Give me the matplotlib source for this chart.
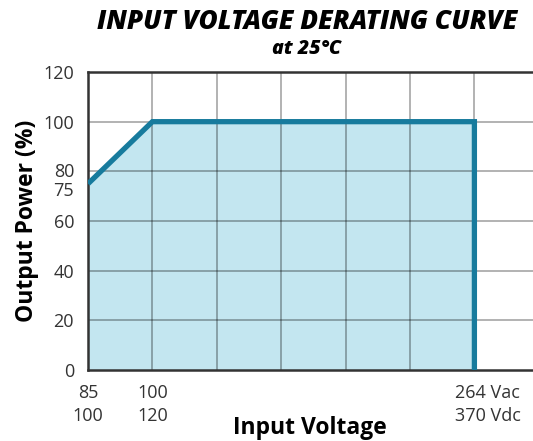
import matplotlib.pyplot as plt
from matplotlib.transforms import ScaledTranslation

plt.rcParams['font.family'] = ['Open Sans', 'DejaVu Sans']

# input voltage categories (evenly spaced grid columns)
x_labels = ['85\n100', '100\n120', '', '', '', '', '264 Vac\n370 Vdc']
curve_x = [0, 1, 6, 6]
curve_y = [75, 100, 100, 0]
y_ticks = [0, 20, 40, 60, 75, 80, 100, 120]
grid_y = [20, 40, 60, 80, 100]

fig = plt.figure(figsize=(5.33, 4.41), dpi=100)
ax = fig.add_axes([88 / 533, 1 - 370 / 441, 1 - 88 / 533, (370 - 72) / 441])

ax.fill_between(curve_x[:3], curve_y[:3], 0, color='#c3e6f0', zorder=1)
ax.plot(curve_x, curve_y, color='#177b9d', linewidth=3.8, zorder=4,
        solid_joinstyle='miter', solid_capstyle='butt')

for gx in range(1, 8):
    ax.axvline(gx, color='black', alpha=0.3, linewidth=1.4, zorder=2)
for gy in grid_y:
    ax.axhline(gy, color='black', alpha=0.3, linewidth=1.4, zorder=2)

ax.set_xlim(0, 6.91)
ax.set_ylim(0, 120)
ax.set_xticks(range(len(x_labels)))
ax.set_xticklabels(x_labels, fontsize=13, color='#333333', linespacing=1.35)
ax.set_yticks(y_ticks)
ax.set_yticklabels([str(v) for v in y_ticks], fontsize=13, color='#333333')
ax.tick_params(length=0)
ax.tick_params(axis='y', pad=10)
ax.tick_params(axis='x', pad=10)

last = ax.get_xticklabels()[-1]
last.set_horizontalalignment('left')
last.set_transform(last.get_transform() + ScaledTranslation(-19 / 100, 0, fig.dpi_scale_trans))

# pull the close 75 / 80 labels apart
ylabs = ax.get_yticklabels()
ylabs[4].set_transform(ylabs[4].get_transform() + ScaledTranslation(0, -5 / 100, fig.dpi_scale_trans))
ylabs[5].set_transform(ylabs[5].get_transform() + ScaledTranslation(0, 1.5 / 100, fig.dpi_scale_trans))

for side in ['left', 'bottom', 'top']:
    ax.spines[side].set_color('#333333')
    ax.spines[side].set_linewidth(1.8)
ax.spines['right'].set_visible(False)

ax.set_ylabel('Output Power (%)', fontsize=16.5, fontweight='bold', labelpad=3)
fig.text(310 / 533, 1 - 434 / 441, 'Input Voltage', ha='center', va='baseline',
         fontsize=16.5, fontweight='bold')

fig.text(307 / 533, 1 - 22 / 441, 'INPUT VOLTAGE DERATING CURVE', ha='center', va='center',
         fontsize=18.8, fontweight='heavy', style='italic')
fig.text(307 / 533, 1 - 49 / 441, 'at 25°C', ha='center', va='center',
         fontsize=14, fontweight='heavy', style='italic')

fig.savefig('out.png', dpi=100)
